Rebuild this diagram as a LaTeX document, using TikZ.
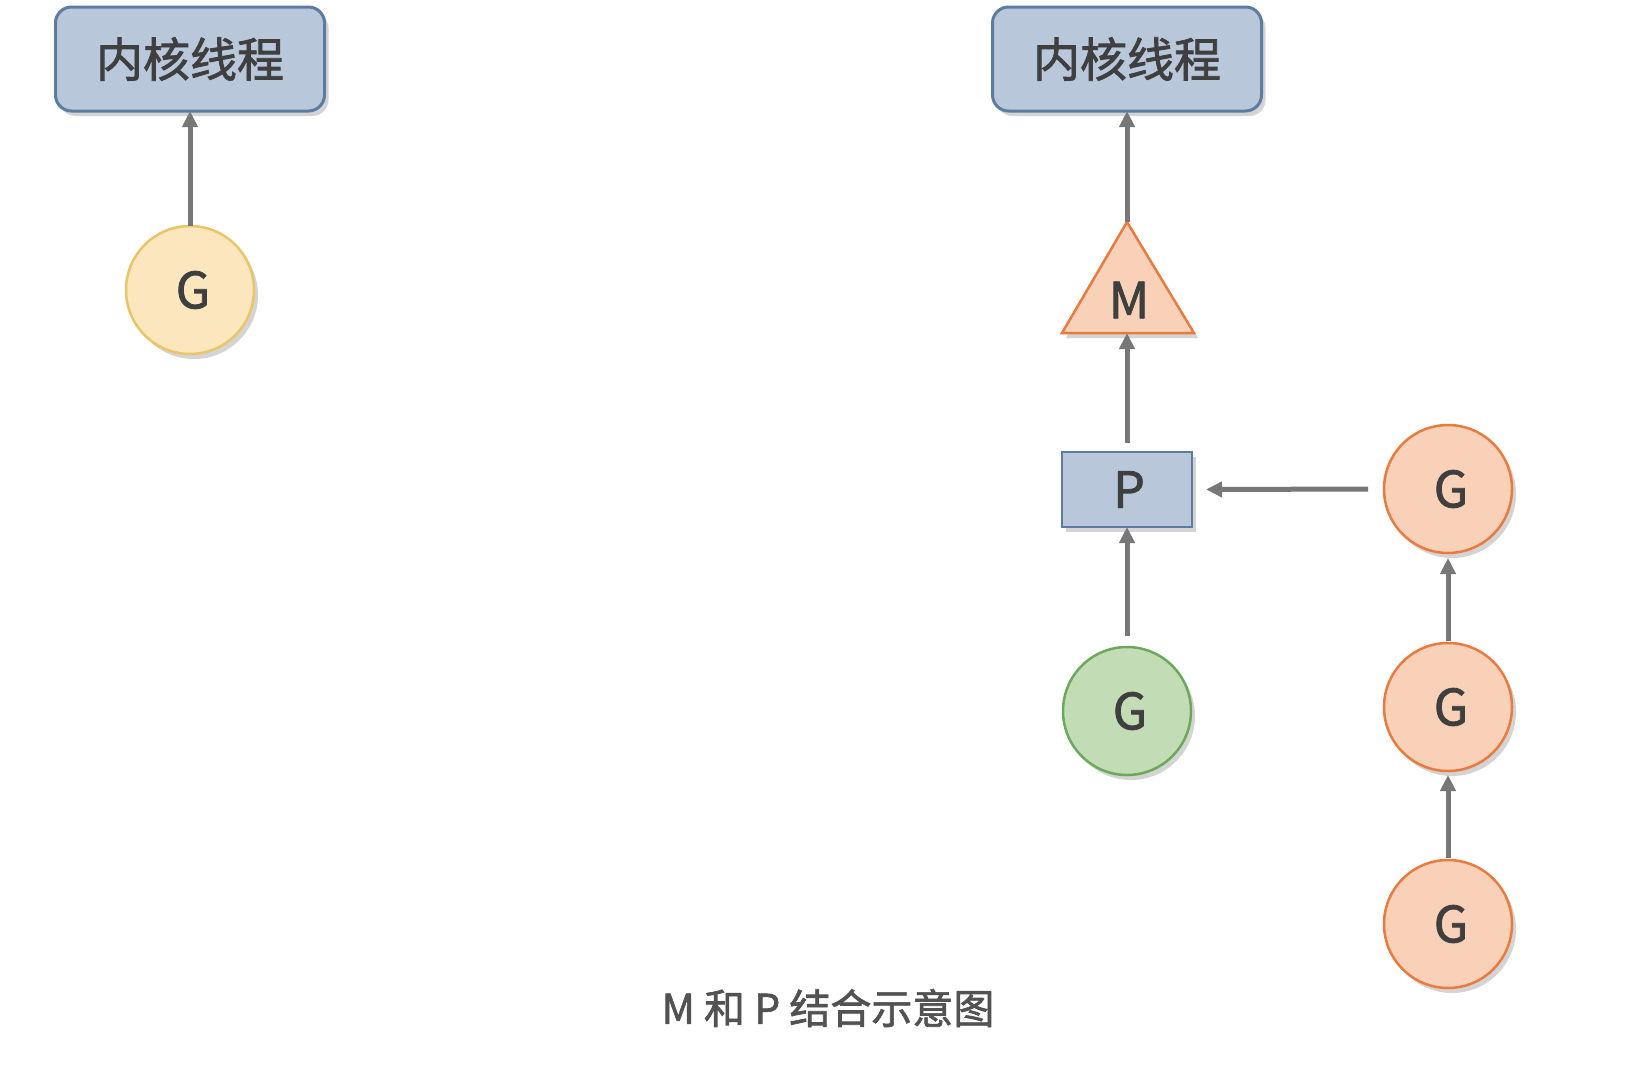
\documentclass[tikz,border=0pt]{standalone}
\usepackage{fontspec}
\newfontfamily\cjk[FakeBold=1.6]{Noto Sans CJK SC}
\usetikzlibrary{arrows.meta,shadows}
\definecolor{txt}{HTML}{3F3F3F}
\definecolor{boxfill}{HTML}{B9C7DA}
\definecolor{boxline}{HTML}{5D7CA2}
\definecolor{yelfill}{HTML}{FCE6BE}
\definecolor{yelline}{HTML}{E9C567}
\definecolor{orafill}{HTML}{F9D0B8}
\definecolor{oraline}{HTML}{EA7B3E}
\definecolor{grnfill}{HTML}{C2DDB5}
\definecolor{grnline}{HTML}{6CA95C}
\definecolor{arr}{HTML}{777777}
\tikzset{
  shad/.style={drop shadow={shadow xshift=4pt,shadow yshift=-5pt,opacity=0.28,fill=black!60}},
  kbox/.style={rectangle,rounded corners=16pt,draw=boxline,fill=boxfill,line width=3pt,
    minimum width=269pt,minimum height=104pt,outer sep=0pt,shad,text=txt,
    font=\cjk\fontsize{47}{56}\selectfont},
  gnode/.style={circle,minimum size=128pt,line width=2.5pt,outer sep=0pt,shad,text=txt,
    inner sep=0pt,font=\cjk\fontsize{50}{60}\selectfont},
  gy/.style={gnode,draw=yelline,fill=yelfill},
  go/.style={gnode,draw=oraline,fill=orafill},
  gg/.style={gnode,draw=grnline,fill=grnfill},
  pbox/.style={rectangle,draw=boxline,fill=boxfill,line width=2.5pt,minimum width=130pt,
    minimum height=75pt,outer sep=0pt,shad,text=txt,font=\cjk\fontsize{50}{60}\selectfont},
  conn/.style={draw=arr,line width=5pt,-{Triangle[length=16pt,width=15pt]}},
  lbl/.style={text=txt,inner sep=0pt}
}
\newcommand{\gtxt}{\hspace*{6pt}G}
\begin{document}
\begin{tikzpicture}[x=1pt,y=-1pt]
\useasboundingbox[fill=white] (0,0) rectangle (1633,1087);
% left
\node[kbox] (kl) at (190,59) {内核线程};
\node[gy] (gl) at (190,290) {\gtxt};
% right
\node[kbox] (kr) at (1127,59) {内核线程};
\coordinate (Mtop) at (1127,222);
\coordinate (Mbl) at (1062,333);
\coordinate (Mbr) at (1194,333);
\coordinate (Mbot) at (1127,333);
\path[draw=oraline,fill=orafill,line width=2.5pt,line join=miter,shad] (Mtop) -- (Mbl) -- (Mbr) -- cycle;
\node[lbl,font=\cjk\fontsize{50}{60}\selectfont] (mlab) at (1129,300) {M};
\node[pbox] (P) at (1127,489.5) {\hspace*{4pt}P};
\node[gg] (gG) at (1127,711) {\gtxt};
\node[go] (g1) at (1448,489) {\gtxt};
\node[go] (g2) at (1448,707) {\gtxt};
\node[go] (g3) at (1448,924) {\gtxt};
% connectors
\draw[conn] (gl.north) -- (kl.south);
\draw[conn] (Mtop) -- (kr.south);
\draw[conn,shorten <=9pt] (P.north) -- (Mbot);
\draw[conn,shorten <=11pt] (gG.north) -- (P.south);
\draw[conn,shorten <=16pt,shorten >=14pt] (g1.west) -- (P.east);
\draw[conn,shorten <=2pt,shorten >=5pt] (g2.north) -- (g1.south);
\draw[conn,shorten <=2pt,shorten >=4pt] (g3.north) -- (g2.south);
% caption
\node[lbl,font=\cjk\fontsize{41}{48}\selectfont,text=txt!90] (cap) at (828,1008) {M 和 P 结合示意图};
\end{tikzpicture}
\end{document}
